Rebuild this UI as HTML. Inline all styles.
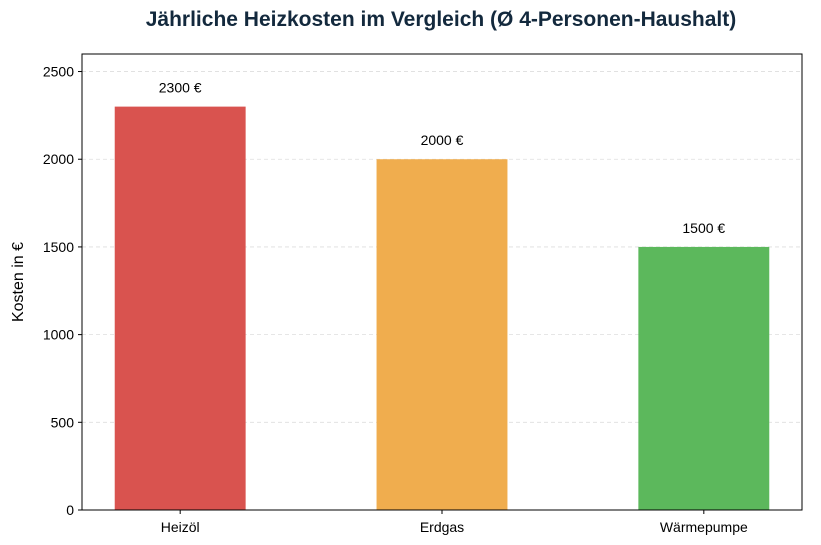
<!DOCTYPE html>
<html><head><meta charset="utf-8">
<style>
html,body{margin:0;padding:0;background:#fff;}
svg{display:block;font-family:"Liberation Sans","DejaVu Sans",sans-serif;}
</style></head>
<body>
<svg id="chart" width="821" height="545">
<text x="441" y="26" text-anchor="middle" font-size="21" font-weight="bold" fill="#13293d">Jährliche Heizkosten im Vergleich (Ø 4-Personen-Haushalt)</text>
<text transform="translate(23,282) rotate(-90)" text-anchor="middle" font-size="16" fill="#000">Kosten in €</text>
<g id="grid"></g><g id="bars"></g><g id="labels"></g><g id="ticks"></g>
<rect x="82" y="54" width="720" height="456" fill="none" stroke="#000" stroke-width="1"/>
</svg>
<script>
const categories = ["Heizöl","Erdgas","Wärmepumpe"];
const values = [2300,2000,1500];
const valueLabels = ["2300 €","2000 €","1500 €"];
const colors = ["#d9534f","#f0ad4e","#5cb85c"];
const yTicks = [0,500,1000,1500,2000,2500];

const L=82,R=802,T=54,B=510,yMax=2600,xMin=-0.375,xMax=2.375,bw=0.5;
const ns="http://www.w3.org/2000/svg";
const y=v=>B-(v/yMax)*(B-T);
const x=i=>L+(i-xMin)/(xMax-xMin)*(R-L);
function mk(tag,attrs,parent,text){const e=document.createElementNS(ns,tag);for(const k in attrs)e.setAttribute(k,attrs[k]);if(text!==undefined)e.textContent=text;document.getElementById(parent).appendChild(e);return e;}

yTicks.forEach(t=>{
  const g=mk("line",{x1:L,x2:R,y1:y(t),y2:y(t),stroke:"#ddd","stroke-dasharray":"4,3","stroke-width":0.8},"grid");
  
  
  const tk=mk("line",{x1:L-4,x2:L,y1:y(t),y2:y(t),stroke:"#000"},"ticks");
  
  
  const lb=mk("text",{x:L-8,y:y(t)+5,"text-anchor":"end","font-size":"14"},"ticks",String(t));
  
  
});
categories.forEach((c,i)=>{
  const x0=x(i-bw/2),x1=x(i+bw/2);
  const b=mk("rect",{x:x0,y:y(values[i]),width:x1-x0,height:B-y(values[i]),fill:colors[i]},"bars");
  
  
  const vl=mk("text",{x:x(i),y:y(values[i])-14,"text-anchor":"middle","font-size":"14"},"labels",valueLabels[i]);
  
  
  const tk=mk("line",{x1:x(i),x2:x(i),y1:B,y2:B+4,stroke:"#000"},"ticks");
  
  
  const cl=mk("text",{x:x(i),y:B+22,"text-anchor":"middle","font-size":"14"},"ticks",c);
  
  
});
</script>
</body></html>
